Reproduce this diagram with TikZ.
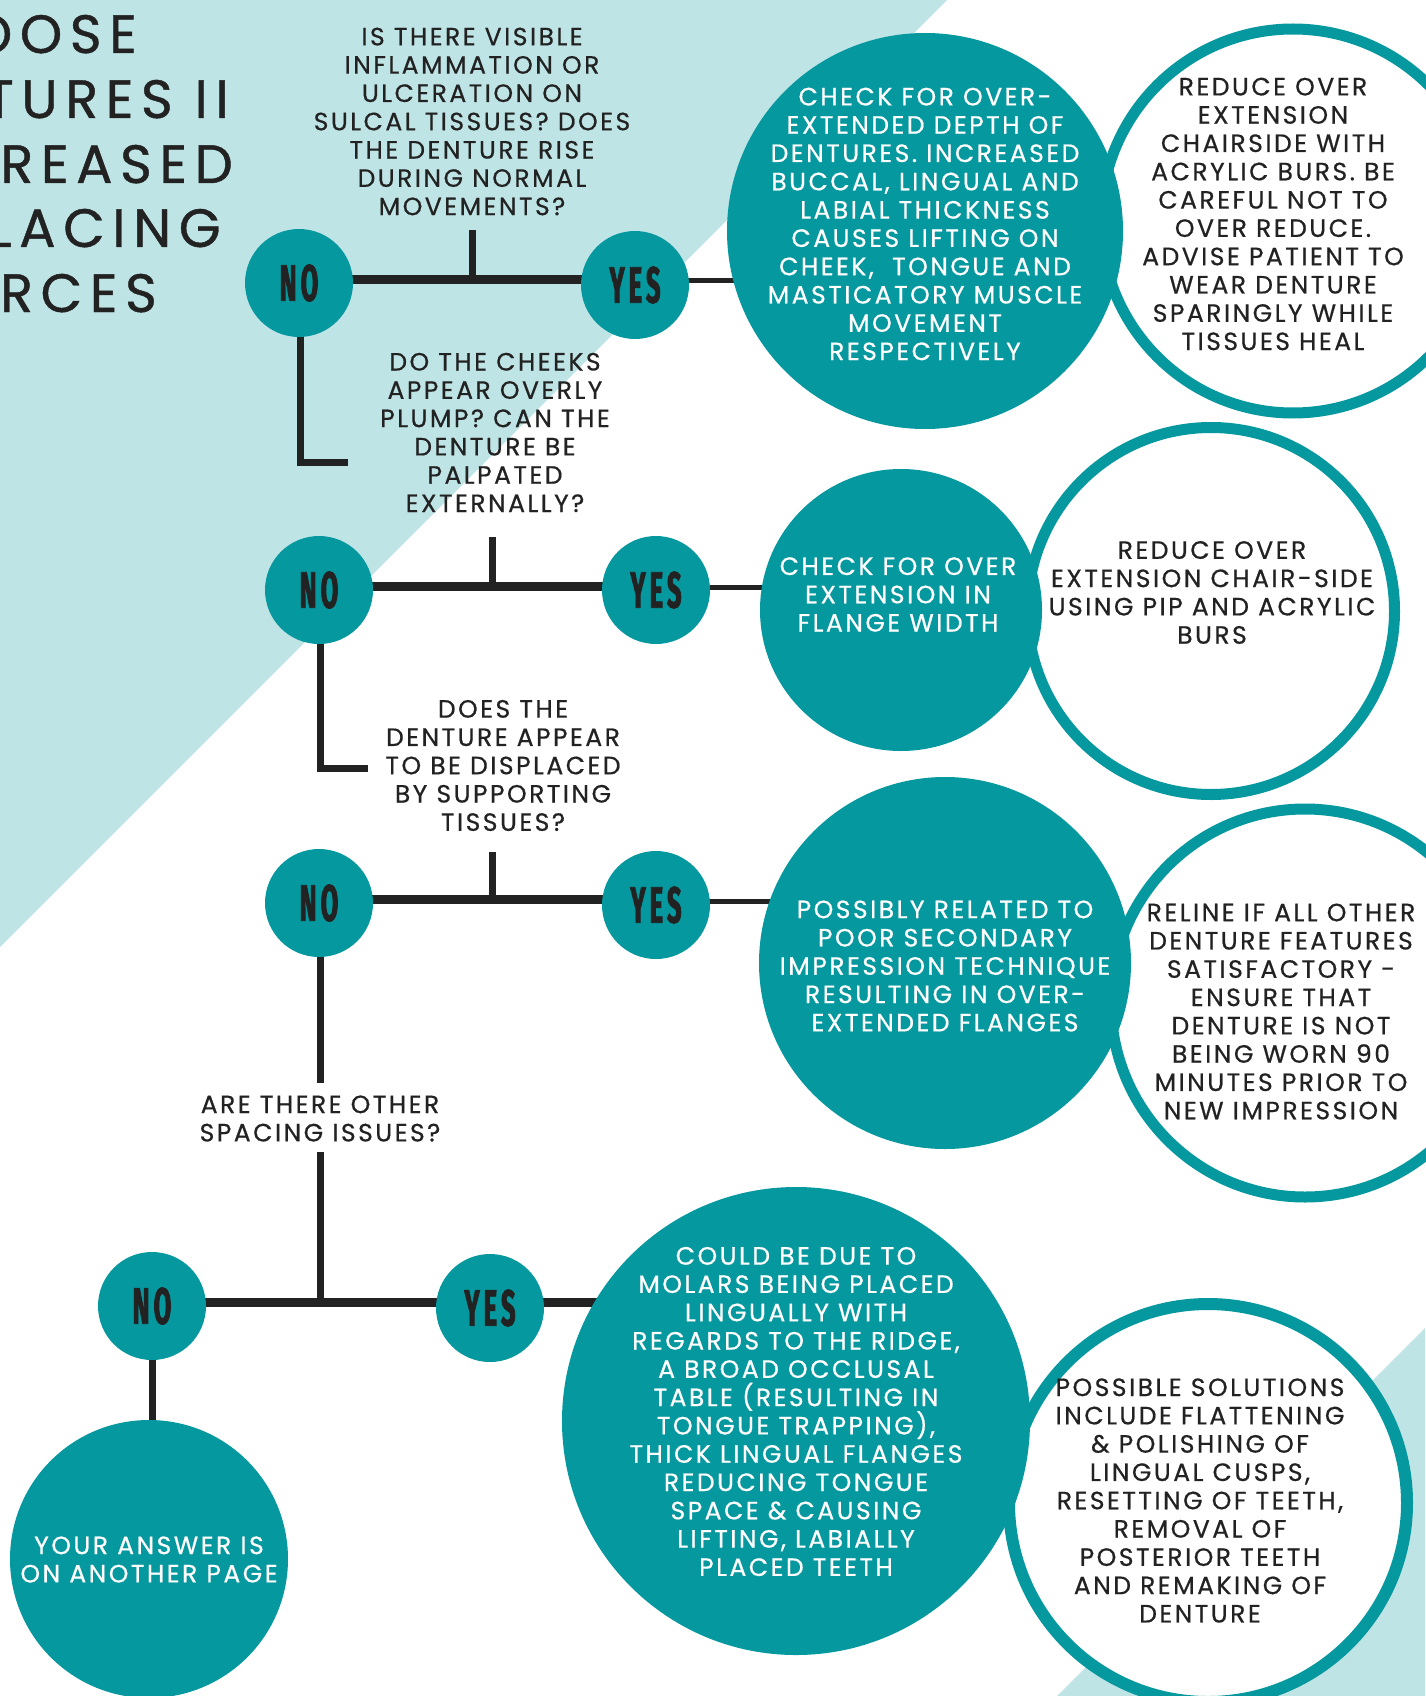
\documentclass[tikz,border=0pt]{standalone}
\usepackage{fontspec}
\newfontfamily\bodyfont[LetterSpace=10,FakeBold=0.6]{Poppins}
\newfontfamily\titlefont[LetterSpace=14,FakeBold=0.8]{Poppins}
\newfontfamily\ynfont[FakeStretch=0.5,LetterSpace=8,FakeBold=1.6]{Fira Sans}
\definecolor{tealmain}{RGB}{5,152,158}
\definecolor{tealpale}{RGB}{191,228,229}
\definecolor{ink}{RGB}{34,34,34}
\pgfdeclarelayer{base}
\pgfdeclarelayer{rings}
\pgfdeclarelayer{links}
\pgfsetlayers{base,rings,links,main}
\begin{document}
\begin{tikzpicture}[x=1pt,y=-1pt,
  mainline/.style={draw=ink,line width=9pt},
  stemline/.style={draw=ink,line width=7pt},
  linkline/.style={draw=ink,line width=5pt},
  smallc/.style={circle,fill=tealmain,minimum size=108pt,inner sep=0pt,
    text=ink,font=\ynfont\bfseries\fontsize{51}{51}\selectfont},
  tealc/.style={circle,fill=tealmain,inner sep=0pt},
  ringc/.style={circle,fill=white,draw=tealmain,line width=11pt,inner sep=0pt},
  qtext/.style={align=center,text=ink,inner sep=0pt,
    font=\bodyfont\fontsize{25}{28.3}\selectfont},
  wtext/.style={qtext,text=white},
  ttext/.style={anchor=base east,text=ink,inner sep=0pt,
    font=\titlefont\fontsize{54}{65}\selectfont}]
\useasboundingbox (0,0) rectangle (1425,1696);
\clip (0,0) rectangle (1425,1696);

\begin{pgfonlayer}{base}
\fill[white] (0,0) rectangle (1425,1696);
% pale corner bands
\fill[tealpale] (0,0) -- (947,0) -- (0,947) -- cycle;
\fill[tealpale] (1425,1328) -- (1425,1696) -- (1057,1696) -- cycle;
\end{pgfonlayer}

% title
\node[ttext] (title1) at (137,53) {LOOSE};
\node[ttext] (title2) at (229,118) {DENTURES II};
\node[ttext] (title3) at (233,183) {INCREASED};
\node[ttext] (title4) at (221,247) {DISPLACING};
\node[ttext] (title5) at (157,312) {FORCES};

% outlined answer circles
\begin{pgfonlayer}{rings}
\node[ringc,minimum size=384pt] (w1) at (1293,221) {};
\node[ringc,minimum size=367pt] (w2) at (1211,611) {};
\node[ringc,minimum size=388pt] (w3) at (1305,1003) {};
\node[ringc,minimum size=398pt,line width=12pt] (w4) at (1208,1503) {};
\end{pgfonlayer}

% filled result circles
\node[tealc,minimum size=396pt] (t1) at (925,231) {};
\node[tealc,minimum size=282pt] (t2) at (901,610) {};
\node[tealc,minimum size=372pt] (t3) at (945,963) {};
\node[tealc,minimum size=468pt] (t4) at (796,1421) {};
\node[tealc,minimum size=278pt] (fin) at (149,1559) {};

% decision circles
\node[smallc] (no1) at (299,283) {NO};
\node[smallc] (yes1) at (635,285) {YES};
\node[smallc] (no2) at (319,590) {NO};
\node[smallc] (yes2) at (656,590) {YES};
\node[smallc] (no3) at (319,903) {NO};
\node[smallc] (yes3) at (656,905) {YES};
\node[smallc] (no4) at (152,1306) {NO};
\node[smallc] (yes4) at (490,1308) {YES};

% connector levels
\coordinate (j1) at (472,279); \coordinate (s1) at (472,230);
\coordinate (j2) at (492,586); \coordinate (s2) at (492,537);
\coordinate (j3) at (492,899); \coordinate (s3) at (492,852);
\coordinate (j4) at (320,1302); \coordinate (s4) at (320,1152);
\coordinate (k1) at (700,280); \coordinate (k2) at (720,587);
\coordinate (k3) at (720,901);
\coordinate (c1) at (300,462); \coordinate (e1) at (348,462);
\coordinate (c2) at (320,768); \coordinate (e2) at (368,768);
\coordinate (d3) at (320,1083);

% connectors, kept beneath the circles
\begin{pgfonlayer}{links}
\draw[linkline] (yes1.center |- k1) -- (t1.center |- k1);
\draw[linkline] (yes2.center |- k2) -- (t2.center |- k2);
\draw[linkline] (yes3.center |- k3) -- (t3.center |- k3);
\draw[mainline] (yes4.center |- j4) -- (t4.center |- j4);
\draw[mainline] (no1.center |- j1) -- (yes1.center |- j1);
\draw[mainline] (no2.center |- j2) -- (yes2.center |- j2);
\draw[mainline] (no3.center |- j3) -- (yes3.center |- j3);
\draw[mainline] (no4.center |- j4) -- (yes4.center |- j4);
\draw[stemline] (s1) -- (j1);
\draw[stemline] (s2) -- (j2);
\draw[stemline] (s3) -- (j3);
\draw[stemline] (s4) -- (j4);
\draw[stemline] (no1.center -| c1) -- (c1) -- (e1);
\draw[stemline] (no2.center -| c2) -- (c2) -- (e2);
\draw[stemline] (no3.center -| d3) -- (d3);
\draw[stemline] (no4.center) -- (no4.center |- fin.center);
\end{pgfonlayer}

% questions
\node[qtext] (q1) at (472,121.5) {IS THERE VISIBLE\\INFLAMMATION OR\\ULCERATION ON\\SULCAL TISSUES? DOES\\THE DENTURE RISE\\DURING NORMAL\\MOVEMENTS?};
\node[qtext] (q2) at (495,432.5) {DO THE CHEEKS\\APPEAR OVERLY\\PLUMP? CAN THE\\DENTURE BE\\PALPATED\\EXTERNALLY?};
\node[qtext] (q3) at (503,765.5) {DOES THE\\DENTURE APPEAR\\TO BE DISPLACED\\BY SUPPORTING\\TISSUES?};
\node[qtext] (q4) at (320,1118.5) {ARE THERE OTHER\\SPACING ISSUES?};

% findings
\node[wtext] (t1txt) at (925,224) {CHECK FOR OVER-\\EXTENDED DEPTH OF\\DENTURES. INCREASED\\BUCCAL, LINGUAL AND\\LABIAL THICKNESS\\CAUSES LIFTING ON\\CHEEK,\ \ TONGUE AND\\MASTICATORY MUSCLE\\MOVEMENT\\RESPECTIVELY};
\node[wtext] (t2txt) at (898,594.5) {CHECK FOR OVER\\EXTENSION IN\\FLANGE WIDTH};
\node[wtext] (t3txt) at (945,966) {POSSIBLY RELATED TO\\POOR SECONDARY\\IMPRESSION TECHNIQUE\\RESULTING IN OVER-\\EXTENDED FLANGES};
\node[wtext] (t4txt) at (796,1411.5) {COULD BE DUE TO\\MOLARS BEING PLACED\\LINGUALLY WITH\\REGARDS TO THE RIDGE,\\A BROAD OCCLUSAL\\TABLE (RESULTING IN\\TONGUE TRAPPING),\\THICK LINGUAL FLANGES\\REDUCING TONGUE\\SPACE \& CAUSING\\LIFTING, LABIALLY\\PLACED TEETH};
\node[wtext] (fintxt) at (149,1559.5) {YOUR ANSWER IS\\ON ANOTHER PAGE};

% remedies
\node[qtext] (w1txt) at (1273,214) {REDUCE OVER\\EXTENSION\\CHAIRSIDE WITH\\ACRYLIC BURS. BE\\CAREFUL NOT TO\\OVER REDUCE.\\ADVISE PATIENT TO\\WEAR DENTURE\\SPARINGLY WHILE\\TISSUES HEAL};
\node[qtext] (w2txt) at (1212,592.5) {REDUCE OVER\\EXTENSION CHAIR-SIDE\\USING PIP AND ACRYLIC\\BURS};
\node[qtext] (w3txt) at (1281,1011.5) {RELINE IF ALL OTHER\\DENTURE FEATURES\\SATISFACTORY -\\ENSURE THAT\\DENTURE IS NOT\\BEING WORN 90\\MINUTES PRIOR TO\\NEW IMPRESSION};
\node[qtext] (w4txt) at (1200,1500.5) {POSSIBLE SOLUTIONS\\INCLUDE FLATTENING\\\& POLISHING OF\\LINGUAL CUSPS,\\RESETTING OF TEETH,\\REMOVAL OF\\POSTERIOR TEETH\\AND REMAKING OF\\DENTURE};
\end{tikzpicture}
\end{document}
